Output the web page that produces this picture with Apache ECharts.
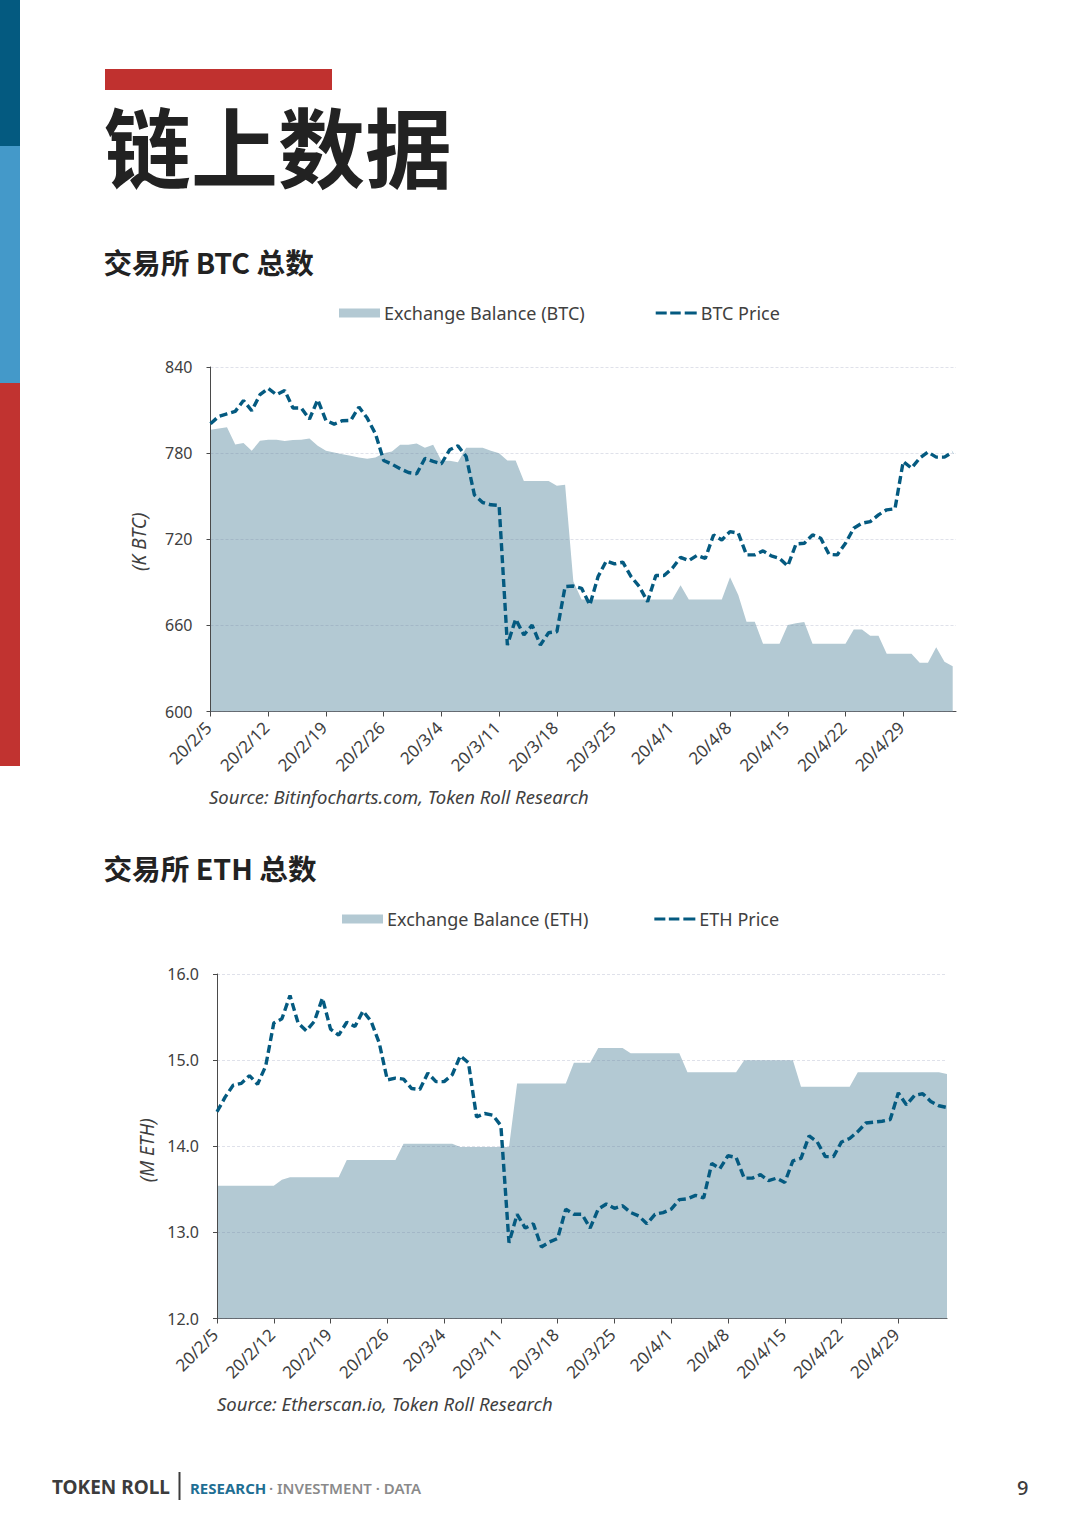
<!DOCTYPE html>
<html>
<head>
<meta charset="utf-8">
<style>
html, body { margin: 0; padding: 0; background: #fff; }
#chart { width: 1080px; height: 1527px; }
</style>
<script src="https://cdn.jsdelivr.net/npm/echarts@6/dist/echarts.min.js"></script>
</head>
<body>
<div id="chart"></div>
<script>
// weekly tick labels, one data point per day starting 20/2/5
const tickLabels = ['20/2/5', '20/2/12', '20/2/19', '20/2/26', '20/3/4', '20/3/11', '20/3/18',
    '20/3/25', '20/4/1', '20/4/8', '20/4/15', '20/4/22', '20/4/29'];

const btcBalance = [796.3, 797.2, 798.1, 786, 787, 781.6, 788.6, 789.3, 789.3, 788.4, 789.1, 789.3, 790.2,
    785.1, 781.6, 780.5, 779.3, 778.1, 777, 776, 777, 780, 781.2, 785.8, 785.8, 786.7, 783.7, 785.8,
    774.7, 774.7, 773.7, 783.7, 783.7, 783.7, 781.6, 780, 774.9, 774.9, 760.5, 760.5, 760.5, 760.5,
    757.2, 757.9, 690.5, 678.1, 678.1, 678.1, 678.1, 678.1, 678.1, 678.1, 678.1, 678.1, 678.1, 678.1,
    678.1, 687.9, 678.1, 678.1, 678.1, 678.1, 678.1, 693.5, 681.2, 662.6, 662.6, 647.2, 647.2, 647.2,
    660.2, 661.4, 662.3, 647.2, 647.2, 647.2, 647.2, 647.2, 657.2, 657.2, 652.8, 652.8, 640.2, 640.2,
    640.2, 640.2, 634, 634, 644.7, 634.7, 631.6];

const btcPrice = [800.5, 805.6, 807.4, 809.1, 816.7, 809.5, 820.7, 825.1, 820.7, 823.7, 811.4, 811.4, 803.7,
    817.2, 802.8, 800.2, 802.6, 802.8, 812.1, 804.4, 793.5, 774.9, 772.3, 769.1, 766.5, 765.6, 776.3,
    774.2, 772.6, 782.3, 785.1, 777.7, 750.9, 745.6, 744, 743.5, 646.3, 664.4, 653.3, 660.2, 646.3,
    654.9, 655.6, 687, 687.4, 685.8, 674.2, 694, 704.9, 702.8, 704, 694, 687, 676.5, 694.7, 694.7,
    699.8, 707.4, 705.1, 708.8, 706.7, 723, 719.5, 725.3, 724.2, 709.1, 709.1, 711.9, 708.4, 706.7,
    701.4, 716.7, 717.2, 723, 720.7, 709.5, 709.1, 717.2, 727.7, 731.2, 732.3, 737, 740.5, 741.2,
    774.2, 769.5, 776.5, 780.7, 777.2, 777.2, 780.7];

const ethBalance = [13.54, 13.54, 13.54, 13.54, 13.54, 13.54, 13.54, 13.54, 13.61, 13.64, 13.64, 13.64, 13.64,
    13.64, 13.64, 13.64, 13.84, 13.84, 13.84, 13.84, 13.84, 13.84, 13.84, 14.03, 14.03, 14.03, 14.03,
    14.03, 14.03, 14.03, 13.99, 13.99, 13.99, 13.99, 13.99, 13.99, 13.99, 14.73, 14.73, 14.73, 14.73,
    14.73, 14.73, 14.73, 14.97, 14.97, 14.97, 15.14, 15.14, 15.14, 15.14, 15.08, 15.08, 15.08, 15.08,
    15.08, 15.08, 15.08, 14.86, 14.86, 14.86, 14.86, 14.86, 14.86, 14.86, 15, 15, 15, 15, 15, 15, 15,
    14.69, 14.69, 14.69, 14.69, 14.69, 14.69, 14.69, 14.86, 14.86, 14.86, 14.86, 14.86, 14.86, 14.86,
    14.86, 14.86, 14.86, 14.86, 14.84];

const ethPrice = [14.4, 14.57, 14.71, 14.73, 14.82, 14.72, 14.93, 15.43, 15.48, 15.75, 15.43, 15.34, 15.45,
    15.72, 15.36, 15.29, 15.44, 15.39, 15.57, 15.45, 15.2, 14.77, 14.79, 14.78, 14.67, 14.66, 14.85,
    14.75, 14.75, 14.83, 15.05, 14.97, 14.34, 14.38, 14.36, 14.24, 12.88, 13.21, 13.05, 13.1, 12.83,
    12.89, 12.93, 13.27, 13.21, 13.21, 13.05, 13.27, 13.33, 13.28, 13.31, 13.23, 13.19, 13.1, 13.21,
    13.23, 13.27, 13.38, 13.39, 13.43, 13.4, 13.8, 13.74, 13.89, 13.87, 13.63, 13.63, 13.67, 13.6,
    13.63, 13.58, 13.83, 13.86, 14.12, 14.05, 13.88, 13.88, 14.05, 14.09, 14.17, 14.27, 14.28, 14.29,
    14.31, 14.62, 14.48, 14.59, 14.61, 14.52, 14.47, 14.45];

const tickDays = tickLabels.map((_, i) => i * 7);
const byDay = values => values.map((v, i) => [i, v]);

const FONT = '"Noto Sans", "Noto Sans CJK SC", sans-serif';
const CJK = '"Noto Sans CJK SC", "Noto Sans", sans-serif';
const INK = '#404040';
const BLUE = '#045a80';
const AREA = '#b3c9d3';
// three dashes in a 41x9 box, the corner specks only keep the box size
const DASH_ICON = 'path://M0,3h11v3h-11z M14.5,3h10.5v3h-10.5z M29,3h12v3h-12z M0,0h.01v.01z M40.99,8.99h.01v.01z';

function xAxis(gridIndex, max) {
    return {
        type: 'value', gridIndex, min: 0, max,
        splitLine: { show: false },
        axisLine: { show: true, lineStyle: { color: '#4a4a4a', width: 1 } },
        axisTick: { show: true, length: 5, customValues: tickDays, lineStyle: { color: '#4a4a4a' } },
        axisLabel: {
            customValues: tickDays, rotate: 45, margin: 11, color: INK, fontFamily: FONT, fontSize: 17,
            padding: [0, 3, 0, 0],
            formatter: v => tickLabels[Math.round(v / 7)]
        }
    };
}

function yAxis(gridIndex, min, max, interval, name, digits, nameGap, namePad) {
    return {
        type: 'value', gridIndex, min, max, interval, z: 3,
        name, nameLocation: 'middle', nameGap, nameRotate: 90,
        nameTextStyle: { color: INK, fontFamily: FONT, fontSize: 19, fontStyle: 'italic', padding: [0, namePad, 0, 0] },
        axisLine: { show: true, lineStyle: { color: '#4a4a4a', width: 1 } },
        axisTick: { show: true, length: 4, lineStyle: { color: '#4a4a4a' } },
        axisLabel: {
            margin: 18, color: INK, fontFamily: FONT, fontSize: 16, padding: [0, 0, 3, 0],
            formatter: v => v.toFixed(digits)
        },
        splitLine: { lineStyle: { color: 'rgba(110,120,160,0.22)', type: [3, 2], width: 1 } }
    };
}

function areaSeries(name, idx, values) {
    return {
        name, type: 'line', xAxisIndex: idx, yAxisIndex: idx, data: byDay(values), z: 1,
        showSymbol: false, symbol: 'none', itemStyle: { color: AREA },
        lineStyle: { width: 0, color: AREA }, areaStyle: { color: AREA, opacity: 1 }
    };
}

function priceSeries(name, idx, values) {
    return {
        name, type: 'line', xAxisIndex: idx, yAxisIndex: idx, data: byDay(values), z: 5,
        showSymbol: false, symbol: 'none', itemStyle: { color: BLUE },
        lineStyle: { width: 3.4, color: BLUE, type: [8, 4] }
    };
}

function legend(left, top, areaName, lineName, gap) {
    return {
        left, top, itemGap: gap, itemWidth: 41, itemHeight: 9, padding: 0,
        textStyle: { color: INK, fontFamily: FONT, fontSize: 18, padding: [0, 0, 0, -1] },
        data: [{ name: areaName, icon: 'rect' }, { name: lineName, icon: DASH_ICON }]
    };
}

function label(x, y, text, style) {
    return { type: 'text', x, y, style: Object.assign({ text, fill: INK, fontFamily: FONT, verticalAlign: 'middle' }, style) };
}

function block(x, y, width, height, fill) {
    return { type: 'rect', shape: { x, y, width, height }, style: { fill } };
}

const chart = echarts.init(document.getElementById('chart'), null, { renderer: 'svg' });
chart.setOption({
    animation: false,
    backgroundColor: '#fff',
    grid: [
        { left: 210.5, top: 367, width: 745.5, height: 344.5 },
        { left: 217, top: 974, width: 730, height: 344.5 }
    ],
    legend: [
        legend(339, 304, 'Exchange Balance (BTC)', 'BTC Price', 71),
        legend(342, 910, 'Exchange Balance (ETH)', 'ETH Price', 66)
    ],
    xAxis: [xAxis(0, 90.4), xAxis(1, 90)],
    yAxis: [
        yAxis(0, 600, 840, 60, '(K BTC)', 0, 62, 5),
        yAxis(1, 12, 16, 1, '(M ETH)', 1, 59, 8)
    ],
    series: [
        areaSeries('Exchange Balance (BTC)', 0, btcBalance),
        priceSeries('BTC Price', 0, btcPrice),
        areaSeries('Exchange Balance (ETH)', 1, ethBalance),
        priceSeries('ETH Price', 1, ethPrice)
    ],
    graphic: [
        block(0, 0, 20, 146, '#045a80'),
        block(0, 146, 20, 237, '#4499c9'),
        block(0, 383, 20, 383, '#c13330'),
        block(105, 69, 227, 21, '#c0312f'),
        label(104, 144, '链上数据', { fontFamily: CJK, fontSize: 87, fontWeight: 700, fill: '#222' }),
        label(103.5, 261, '交易所 BTC 总数', { fontFamily: CJK, fontSize: 28.6, fontWeight: 700, fill: '#222' }),
        label(103.5, 867, '交易所 ETH 总数', { fontFamily: CJK, fontSize: 28.6, fontWeight: 700, fill: '#222' }),
        label(209, 796, 'Source: Bitinfocharts.com, Token Roll Research', { fontSize: 18.5, fontStyle: 'italic' }),
        label(217, 1403, 'Source: Etherscan.io, Token Roll Research', { fontSize: 18.5, fontStyle: 'italic' }),
        label(52, 1487, 'TOKEN ROLL', { fontSize: 19, fontWeight: 700, fill: '#3c3c3c' }),
        block(178.5, 1472, 2, 28, '#3c3c3c'),
        label(190, 1488, 'RESEARCH', { fontSize: 15, fontWeight: 700, fill: '#1f6f94' }),
        label(269, 1488, '· INVESTMENT · DATA', { fontSize: 15, fontWeight: 600, fill: '#8a8a8a' }),
        label(1017, 1487, '9', { fontSize: 20, fontWeight: 500, fill: '#3c3c3c' })
    ]
});
</script>
</body>
</html>
